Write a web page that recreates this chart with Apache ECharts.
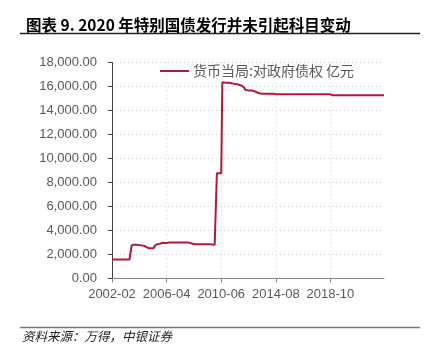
<!DOCTYPE html>
<html><head><meta charset="utf-8">
<script src="https://cdn.jsdelivr.net/npm/echarts@6/dist/echarts.min.js"></script>
<style>html,body{margin:0;padding:0;background:#fff}#c{width:424px;height:358px}</style>
</head><body><div id="c"></div>
<script>
var titleText = '图表 9. 2020 年特别国债发行并未引起科目变动';
var sourceText = '资料来源：万得，中银证券';
var seriesName = '货币当局:对政府债权 亿元';
var startYear = 2002, startMonth = 2, monthCount = 250;
var yTicks = [0, 2000, 4000, 6000, 8000, 10000, 12000, 14000, 16000, 18000];
var claims = [
  1583,1583,1583,1583,1583,1583,1583,1583,1583,1583,1583,1583,1583,1583,1583,1583,1583,1583,
  2750,2800,2821,2821,
  2821,2821,2800,2790,2780,2760,2740,2720,
  2700,2650,2600,2560,2520,
  2520,2520,2520,2530,2560,
  2800,2864,
  2864,2880,2900,2950,2970,2970,
  2950,2900,2950,
  2990,2990,2990,2990,2990,2990,2990,2990,2990,2990,2990,2990,2990,2990,2990,2990,2990,2990,2990,2990,
  2970,2950,2930,2900,2892,
  2860,2860,2860,2860,2860,2860,2860,2860,2860,2860,2860,2860,2860,2860,2860,
  2840,2830,2820,2810,2800,
  8770,8770,8770,8770,8770,
  16350,16340,16330,16320,16318,16318,16310,16300,
  16280,16260,16240,16220,16200,16190,16180,
  16150,16120,16100,16070,16040,
  15900,15720,
  15700,15690,15680,15670,15662,15662,15650,15620,
  15580,15540,15500,15450,15421,
  15410,15400,15400,15400,15400,15400,15400,15400,15400,15400,15400,15400,15400,15380,15360,
  15350,15350,15350,15350,15350,15350,15350,15350,15350,15350,15350,15350,15350,15350,15350,15350,15350,
  15350,15350,15350,15350,15350,15350,15350,15350,15350,15350,15350,15350,15350,15350,15350,15350,15350,
  15350,15350,15350,15350,15350,15350,15350,15350,15350,15350,15350,15350,15350,15350,15350,15350,15350,
  15274,15274,15274,15274,15274,15274,15274,15274,15274,15274,15274,15274,15274,15274,15274,15274,
  15274,15274,15274,15274,15274,15274,15274,15274,15274,15274,15274,15274,15274,15274,15274,15274,
  15274,15274,15274,15274,15274,15274,15274,15274,15274,15274,15274,15274,15274,15274,15274,15274
];
var months = [];
for (var i = 0; i < monthCount; i++) {
  var m = startMonth - 1 + i;
  var y = startYear + Math.floor(m / 12);
  var mm = (m % 12) + 1;
  months.push(y + '-' + (mm < 10 ? '0' + mm : mm));
}
var numFont = 'Liberation Sans';
var chart = echarts.init(document.getElementById('c'));
chart.setOption({
  animation: false,
  backgroundColor: '#fff',
  title: {
    text: titleText, left: 21, top: 12,
    textStyle: {fontFamily: 'Noto Sans CJK SC', fontSize: 15.5, fontWeight: 'bold', color: '#000'}
  },
  graphic: [
    {type: 'line', shape: {x1: 20, y1: 33.5, x2: 420, y2: 33.5}, style: {stroke: '#222', lineWidth: 1.5}},
    {type: 'line', shape: {x1: 20, y1: 327.5, x2: 420, y2: 327.5}, style: {stroke: '#777', lineWidth: 1.5}},
    {type: 'text', left: 22, top: 330, style: {text: sourceText, font: 'italic 12.5px "Noto Sans CJK SC"', fill: '#222'}}
  ],
  legend: {
    data: [seriesName], left: 155, top: 59, icon: 'rect', itemWidth: 29, itemHeight: 2, itemGap: 5,
    textStyle: {fontFamily: 'Noto Sans CJK SC', fontSize: 14, color: '#595959', padding: [0, 0, 0, -1]}
  },
  grid: {left: 112, right: 40, top: 62.5, bottom: 79.5, containLabel: false},
  xAxis: {
    type: 'category', data: months, boundaryGap: false,
    axisLine: {lineStyle: {color: '#868686', width: 1}},
    axisTick: {interval: 49, length: 4, lineStyle: {color: '#868686'}},
    axisLabel: {interval: 49, margin: 9, fontFamily: numFont, fontSize: 13, color: '#595959'},
    splitLine: {show: true, interval: 49, lineStyle: {type: [1, 3], color: '#d0d0d0'}}
  },
  yAxis: {
    type: 'value', min: yTicks[0], max: yTicks[yTicks.length - 1], interval: 2000,
    axisLine: {show: true, lineStyle: {color: '#404040', width: 1}},
    axisTick: {show: true, length: 4, lineStyle: {color: '#404040'}},
    axisLabel: {margin: 15, fontFamily: numFont, fontSize: 13, color: '#595959',
      formatter: function (v) { return v.toLocaleString('en-US', {minimumFractionDigits: 2, maximumFractionDigits: 2}); }},
    splitLine: {show: true, lineStyle: {type: [1, 3], color: '#d0d0d0'}}
  },
  series: [{
    name: seriesName, type: 'line', data: claims, symbol: 'none',
    lineStyle: {color: '#B5173C', width: 2}, itemStyle: {color: '#B5173C'}
  }]
});
</script></body></html>
